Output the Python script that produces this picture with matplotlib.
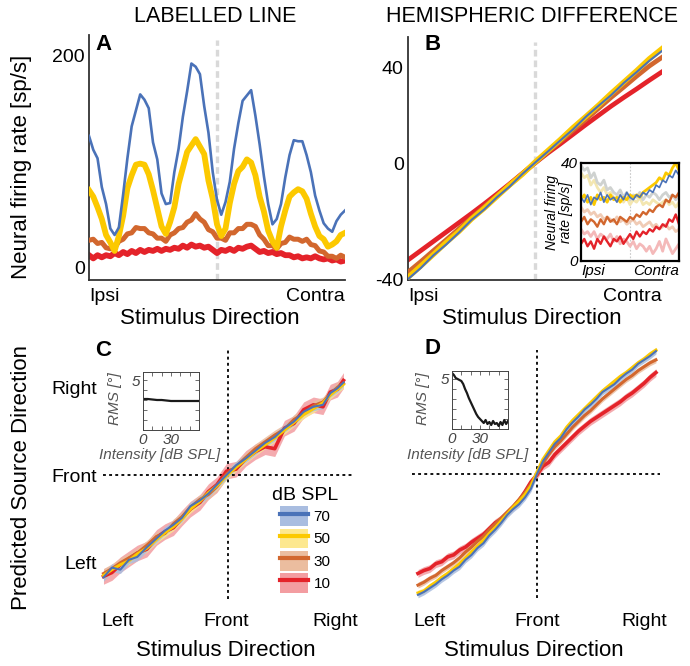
import numpy as np
import matplotlib
matplotlib.use('Agg')
import matplotlib.pyplot as plt
from matplotlib.patches import Patch
from matplotlib.lines import Line2D
from matplotlib.legend_handler import HandlerTuple

plt.rcParams['font.family'] = ['Liberation Sans', 'DejaVu Sans']

# ---------------- data ----------------
BLUE, YELLOW, ORANGE, RED = '#4a72b8', '#fcc900', '#d2672e', '#e4232a'
BAND_BLUE, BAND_YELLOW, BAND_ORANGE, BAND_RED = '#a9bde0', '#fde88f', '#ebbd9f', '#f39da1'
levels = ['70', '50', '30', '10']

# Panel A: firing rates (61 samples, ipsi -> contra)
A_blue = [124, 111, 103, 76, 60, 37, 31, 38, 69, 103, 133, 148, 163, 158, 150, 118, 102, 70, 60, 61,
          90, 112, 142, 166, 192, 189, 182, 152, 127, 90, 64, 50, 62, 81, 112, 136, 157, 162, 167, 143,
          116, 86, 60, 41, 46, 60, 85, 106, 120, 119, 119, 106, 90, 68, 54, 42, 37, 34, 44, 50, 54]
A_yellow = [73, 67, 57, 46, 31, 24, 16, 30, 49, 75, 87, 97, 98, 97, 88, 73, 56, 39, 32, 43,
            57, 79, 94, 109, 115, 121, 114, 107, 82, 65, 41, 30, 37, 61, 79, 91, 95, 102, 99, 87,
            67, 53, 35, 25, 19, 39, 54, 67, 71, 74, 72, 65, 51, 39, 30, 27, 20, 22, 25, 31, 33]
A_orange = [26, 27, 23, 24, 19, 18, 19, 25, 27, 32, 33, 38, 37, 37, 33, 32, 28, 28, 25, 31,
            33, 37, 38, 43, 45, 51, 46, 43, 36, 34, 28, 28, 26, 33, 33, 37, 37, 41, 41, 39,
            31, 27, 21, 21, 18, 23, 24, 29, 27, 27, 25, 27, 22, 21, 16, 15, 11, 11, 9, 12, 10]
A_red = [12, 9, 12, 10, 12, 11, 14, 12, 15, 13, 16, 14, 17, 15, 17, 16, 18, 16, 18, 17,
         19, 18, 21, 19, 22, 20, 21, 19, 20, 17, 14, 17, 16, 18, 16, 19, 18, 20, 21, 18,
         15, 16, 14, 15, 13, 14, 12, 12, 10, 11, 9, 10, 9, 11, 9, 8, 9, 7, 8, 6, 7]

# Panel B: hemispheric difference (21 samples)
B_blue = [-40.0, -36.2, -31.8, -28.1, -24.0, -19.6, -16.0, -11.8, -8.1, -3.8, 0.1,
          3.9, 7.8, 11.6, 15.9, 19.7, 23.4, 27.6, 31.3, 35.2, 38.6]
B_yellow = [-39.4, -35.5, -31.5, -27.4, -23.6, -19.3, -15.6, -11.6, -7.6, -3.9, 0.3,
            4.2, 8.1, 12.2, 16.0, 19.9, 24.0, 27.9, 31.8, 35.9, 39.4]
B_orange = [-37.6, -34.0, -30.2, -26.5, -22.7, -18.9, -15.1, -11.3, -7.6, -3.7, 0.0,
            3.8, 7.5, 11.3, 15.0, 18.8, 22.6, 26.2, 29.9, 33.4, 36.4]
B_red = [-33.4, -30.2, -27.0, -23.8, -20.6, -17.4, -14.1, -10.7, -7.2, -3.6, 0.0,
         3.4, 6.6, 9.9, 13.2, 16.4, 19.6, 22.6, 25.5, 28.5, 31.4]

# Panel B inset (31 samples), faded = ipsilateral hemisphere
Bi_fblue = [39, 37, 38, 34, 36, 32, 31, 33, 29, 30, 28, 27, 29, 26, 28, 25, 27, 26, 28, 25, 27, 26, 28, 27, 25, 27, 28, 26, 27, 25, 27]
Bi_fyellow = [36, 34, 35, 31, 33, 30, 28, 30, 27, 28, 26, 25, 27, 24, 26, 23, 25, 24, 26, 23, 24, 23, 25, 24, 23, 24, 25, 23, 24, 22, 24]
Bi_forange = [22, 20, 21, 19, 20, 18, 19, 17, 18, 17, 16, 18, 16, 17, 15, 16, 17, 15, 16, 14, 15, 16, 14, 15, 13, 14, 15, 13, 14, 12, 13]
Bi_fred = [13, 11, 12, 10, 12, 9, 11, 10, 9, 11, 8, 10, 7, 9, 8, 6, 8, 5, 7, 6, 4, 6, 3, 5, 8, 4, 9, 6, 3, 5, 7]
Bi_blue = [26, 24, 27, 23, 26, 25, 28, 24, 27, 25, 26, 24, 27, 25, 28, 26, 25, 27, 26, 28, 27, 29, 28, 31, 30, 33, 32, 35, 34, 37, 35]
Bi_yellow = [25, 27, 24, 26, 23, 27, 25, 26, 24, 27, 25, 26, 24, 26, 25, 27, 26, 27, 26, 28, 29, 30, 31, 32, 34, 33, 36, 35, 38, 40, 37]
Bi_orange = [16, 18, 15, 17, 16, 14, 17, 15, 18, 16, 17, 15, 18, 17, 16, 18, 17, 19, 18, 20, 19, 21, 20, 22, 23, 22, 25, 24, 27, 26, 28]
Bi_red = [7, 9, 6, 8, 5, 9, 7, 10, 8, 6, 9, 8, 10, 7, 9, 11, 9, 12, 10, 12, 11, 13, 12, 14, 13, 15, 14, 17, 16, 19, 15]

# Panel C: labelled-line decoder (stimulus deg -> predicted deg)
C_x = [-102, -95, -88, -81, -74, -66, -58, -51, -44, -37, -30, -22, -15, -8,
       0, 8, 16, 24, 32, 40, 48, 56, 64, 72, 80, 86, 92, 97]
C_blue = [-105, -95, -97, -87, -84, -74, -65, -57, -51, -44, -32, -26, -19, -10,
          0, 10, 17, 25, 33, 39, 48, 55, 65, 70, 72, 84, 89, 95]
C_yellow = [-103, -97, -92, -88, -81, -75, -66, -59, -53, -45, -35, -27, -18, -11,
            -1, 8, 16, 24, 31, 38, 46, 54, 62, 68, 74, 82, 88, 93]
C_orange = [-101, -96, -90, -85, -80, -72, -63, -60, -50, -43, -33, -25, -20, -12,
            1, 9, 18, 27, 34, 41, 47, 57, 63, 71, 75, 83, 90, 94]
C_red = [-104, -100, -92, -86, -80, -76, -64, -58, -54, -44, -35, -28, -17, -10,
         4, 6, 17, 24, 29, 27, 48, 53, 67, 72, 70, 85, 88, 97]
C_err = [4, 4, 5, 8]   # band half widths for 70, 50, 30, 10 dB

# Panel D: hemispheric-difference decoder (41 samples, -100..100 deg)
D_blue = [-124, -121, -117, -113, -108, -104, -99, -95, -88, -83, -76, -71, -63, -57, -50, -42, -36, -31, -24, -15,
          0, 13, 22, 31, 37, 46, 53, 59, 66, 71, 77, 84, 88, 92, 98, 103, 107, 113, 117, 121, 126]
D_yellow = [-122, -120, -115, -111, -106, -102, -97, -92, -86, -80, -74, -68, -61, -55, -48, -41, -34, -28, -21, -12,
            2, 15, 24, 33, 39, 48, 55, 61, 67, 73, 79, 85, 90, 95, 100, 104, 109, 114, 118, 123, 127]
D_orange = [-114, -111, -107, -104, -99, -95, -91, -86, -80, -75, -69, -64, -57, -51, -45, -39, -33, -26, -19, -10,
            0, 11, 20, 28, 34, 41, 48, 54, 60, 65, 71, 77, 82, 87, 92, 97, 101, 106, 110, 114, 117]
D_red = [-102, -99, -97, -92, -90, -85, -83, -78, -75, -70, -66, -62, -56, -50, -46, -40, -34, -27, -18, -8,
         -1, 8, 12, 20, 26, 32, 38, 44, 49, 54, 58, 62, 66, 70, 74, 79, 83, 88, 93, 99, 104]
D_err = [3, 3, 3, 4]

# RMS insets
rms_C_db = [0, 5, 10, 15, 20, 25, 30, 35, 40, 45, 50, 55, 60]
rms_C = [3.1, 3.1, 3.05, 3.0, 3.0, 2.95, 2.9, 2.9, 2.9, 2.9, 2.9, 2.9, 2.9]
rms_D = [5.6, 5.4, 5.1, 5.0, 4.9, 4.8, 4.5, 4.0, 3.6, 3.1, 2.7, 2.3, 1.9, 1.5, 1.2, 1.0,
         0.8, 0.6, 0.9, 0.5, 0.7, 0.4, 0.8, 0.5, 0.6, 0.3, 0.7, 0.4, 0.9, 0.5, 0.8]

# ---------------- figure ----------------
W, H = 690, 666
fig = plt.figure(figsize=(W / 100, H / 100), dpi=100)


def add_ax(x0, y0, x1, y1):
    return fig.add_axes([x0 / W, 1 - y1 / H, (x1 - x0) / W, (y1 - y0) / H])


def ftext(x, y, s, **kw):
    kw.setdefault('ha', 'center')
    kw.setdefault('va', 'center')
    return fig.text(x / W, 1 - y / H, s, **kw)


def style_main(ax):
    for s in ['top', 'right']:
        ax.spines[s].set_visible(False)
    for s in ['left', 'bottom']:
        ax.spines[s].set_color('#333333')
        ax.spines[s].set_linewidth(1.3)
    ax.tick_params(length=0, labelsize=14, pad=3)
    ax.set_xticks([-90, 90])
    ax.set_xticklabels(['Ipsi', 'Contra'])
    lbls = ax.get_xticklabels()
    lbls[0].set_ha('left')
    lbls[1].set_ha('right')
    ax.tick_params(axis='x', pad=6)


# Panel A
axA = add_ax(89, 35, 345, 280)
xA = np.linspace(-90, 90, len(A_blue))
axA.set_xlim(-90, 90)
axA.set_ylim(-11.3, 218.8)
axA.axvline(0, ymin=0, ymax=0.98, color='#d9d9d9', lw=2.4, ls=(0, (2, 1.2)), zorder=1)
axA.plot(xA, A_red, color=RED, lw=4.2, zorder=2)
axA.plot(xA, A_orange, color=ORANGE, lw=3.6, zorder=3)
axA.plot(xA, A_yellow, color=YELLOW, lw=4.2, zorder=4)
axA.plot(xA, A_blue, color=BLUE, lw=1.9, zorder=5)
axA.set_yticks([0, 200])
style_main(axA)

# Panel B
axB = add_ax(408, 37, 662, 280)
xB = np.linspace(-90, 90, len(B_blue))
axB.set_xlim(-90, 90)
axB.set_ylim(-40.3, 43.4)
axB.axvline(0, ymin=0, ymax=0.98, color='#d9d9d9', lw=2.4, ls=(0, (2, 1.2)), zorder=1)
axB.plot(xB, B_red, color=RED, lw=3.4, zorder=2)
axB.plot(xB, B_orange, color=ORANGE, lw=3.4, zorder=3)
axB.plot(xB, B_yellow, color=YELLOW, lw=3.8, zorder=4)
axB.plot(xB, B_blue, color=BLUE, lw=1.5, zorder=5)
axB.set_yticks([-40, 0, 32.8])
axB.set_yticklabels(['-40', '0', '40'])
style_main(axB)

# Panel B inset
axI = add_ax(581, 163, 679, 261)
xI = np.linspace(0, 1, len(Bi_blue))
axI.set_xlim(0, 1)
axI.set_ylim(0, 40)
axI.axvline(0.5, color='#c8c8c8', lw=0.8, ls=(0, (1.5, 1.5)))
axI.plot(xI, Bi_fred, color='#f4b9b9', lw=2.0)
axI.plot(xI, Bi_forange, color='#f0cbb5', lw=2.0)
axI.plot(xI, Bi_fyellow, color='#f3e6b0', lw=2.0)
axI.plot(xI, Bi_fblue, color='#cfd2d0', lw=2.0)
axI.plot(xI, Bi_red, color=RED, lw=1.7)
axI.plot(xI, Bi_orange, color=ORANGE, lw=1.7)
axI.plot(xI, Bi_yellow, color=YELLOW, lw=2.0)
axI.plot(xI, Bi_blue, color=BLUE, lw=1.2)
for s in axI.spines.values():
    s.set_linewidth(1.6)
    s.set_color('black')
axI.set_yticks([0, 40])
axI.set_yticklabels(['0', '40'], fontstyle='italic')
axI.set_xticks([0, 1])
axI.set_xticklabels(['Ipsi', 'Contra'], fontstyle='italic')
axI.tick_params(length=0, labelsize=11, pad=2)
li = axI.get_xticklabels()
li[0].set_ha('left')
li[1].set_ha('right')
ftext(559, 212, 'Neural firing\nrate [sp/s]', rotation=90, fontsize=10, fontstyle='italic', linespacing=0.95)


# Panels C & D
def decoder_panel(ax, x, series, errs):
    cols = [(BLUE, BAND_BLUE, 1.5), (YELLOW, BAND_YELLOW, 2.2), (ORANGE, BAND_ORANGE, 2.2), (RED, BAND_RED, 2.6)]
    for (lc, bc, lw), y, e in reversed(list(zip(cols, series, errs))):
        y = np.asarray(y, float)
        ax.fill_between(x, y - e, y + e, color=bc, alpha=0.85, lw=0)
        ax.plot(x, y, color=lc, lw=lw)
    for s in ax.spines.values():
        s.set_visible(False)
    ax.tick_params(length=0, labelsize=14)


axC = add_ax(100, 340, 350, 605)
axC.set_xlim(-104.9, 102.4)
axC.set_ylim(-133.3, 138.5)
axC.plot([-102.5, 104.5], [0, 0], color='black', lw=1.3, ls=(0, (1.6, 1.8)), clip_on=False)
axC.plot([1.2, 1.2], [-127, 128], color='black', lw=1.3, ls=(0, (1.6, 1.8)))
decoder_panel(axC, C_x, [C_blue, C_yellow, C_orange, C_red], C_err)
axC.set_yticks([-90, 0, 90])
axC.set_yticklabels(['Left', 'Front', 'Right'])
axC.set_xticks([-90, 0, 90])
axC.set_xticklabels(['Left', 'Front', 'Right'])
axC.tick_params(axis='y', pad=2)
axC.tick_params(axis='x', pad=6)

axD = add_ax(410, 340, 665, 605)
xD = np.linspace(-100, 100, len(D_blue))
axD.set_xlim(-106.7, 107.6)
axD.set_ylim(-134.4, 137.4)
axD.plot([-105, 103.4], [0, 0], color='black', lw=1.3, ls=(0, (1.6, 1.8)))
axD.plot([0, 0], [-127, 127], color='black', lw=1.3, ls=(0, (1.6, 1.8)))
decoder_panel(axD, xD, [D_blue, D_yellow, D_orange, D_red], D_err)
axD.set_yticks([])
axD.set_xticks([-90, 0, 90])
axD.set_xticklabels(['Left', 'Front', 'Right'])
axD.tick_params(axis='x', pad=6)

# legend in C
handles = [(Patch(facecolor=bc, edgecolor='none'), Line2D([], [], color=lc, lw=3))
           for lc, bc in [(BLUE, BAND_BLUE), (YELLOW, BAND_YELLOW), (ORANGE, BAND_ORANGE), (RED, BAND_RED)]]
leg = axC.legend(handles, levels, title='dB SPL',
                 handler_map={tuple: HandlerTuple(ndivide=1, pad=0)},
                 frameon=False, loc='upper left', bbox_to_anchor=(272 / W, 1 - 487 / H),
                 bbox_transform=fig.transFigure, fontsize=11, title_fontsize=14,
                 handlelength=1.85, handleheight=1.63, labelspacing=0.15, handletextpad=0.35,
                 borderpad=0, borderaxespad=0)


# RMS insets
def rms_inset(x0, y0, x1, y1, x, y):
    ax = add_ax(x0, y0, x1, y1)
    ax.plot(x, y, color='#1a1a1a', lw=1.6)
    ax.set_xlim(0, 60)
    ax.set_ylim(0, 5.8)
    ax.set_xticks([0, 10, 20, 30, 40, 50, 60])
    ax.set_xticklabels(['0', '', '', '30', '', '', ''])
    ax.set_yticks([0, 1, 2, 3, 4, 5])
    ax.set_yticklabels(['', '', '', '', '', '5'])
    ax.tick_params(direction='in', length=3, width=0.6, colors='#555555', labelsize=11,
                   top=True, right=True, pad=2)
    for lab in ax.get_xticklabels() + ax.get_yticklabels():
        lab.set_fontstyle('italic')
        lab.set_color('#444444')
    for s in ax.spines.values():
        s.set_linewidth(0.7)
        s.set_color('#444444')
    return ax


rms_inset(143, 372, 199, 430, rms_C_db, rms_C)
rms_inset(452, 371, 508, 429, np.linspace(0, 60, len(rms_D)), rms_D)
for cx, ix in [(115, 160), (423, 468)]:
    ftext(cx, 399, 'RMS [°]', rotation=90, fontsize=11, fontstyle='italic', color='#555555')
    ftext(ix, 455, 'Intensity [dB SPL]', fontsize=11, fontstyle='italic', color='#555555')

# titles, labels, panel letters
ftext(215, 17, 'LABELLED LINE', fontsize=15.5)
ftext(532, 17, 'HEMISPHERIC DIFFERENCE', fontsize=15.5)
ftext(22, 167, 'Neural firing rate [sp/s]', rotation=90, fontsize=16)
ftext(22, 478, 'Predicted Source Direction', rotation=90, fontsize=16)
ftext(210, 318, 'Stimulus Direction', fontsize=16)
ftext(532, 318, 'Stimulus Direction', fontsize=16)
ftext(226, 650, 'Stimulus Direction', fontsize=16)
ftext(534, 650, 'Stimulus Direction', fontsize=16)
for x, y, s in [(103, 45, 'A'), (433, 45, 'B'), (103, 350, 'C'), (432, 348, 'D')]:
    ftext(x, y, s, fontsize=16, fontweight='bold')

fig.savefig('out.png', dpi=100)
